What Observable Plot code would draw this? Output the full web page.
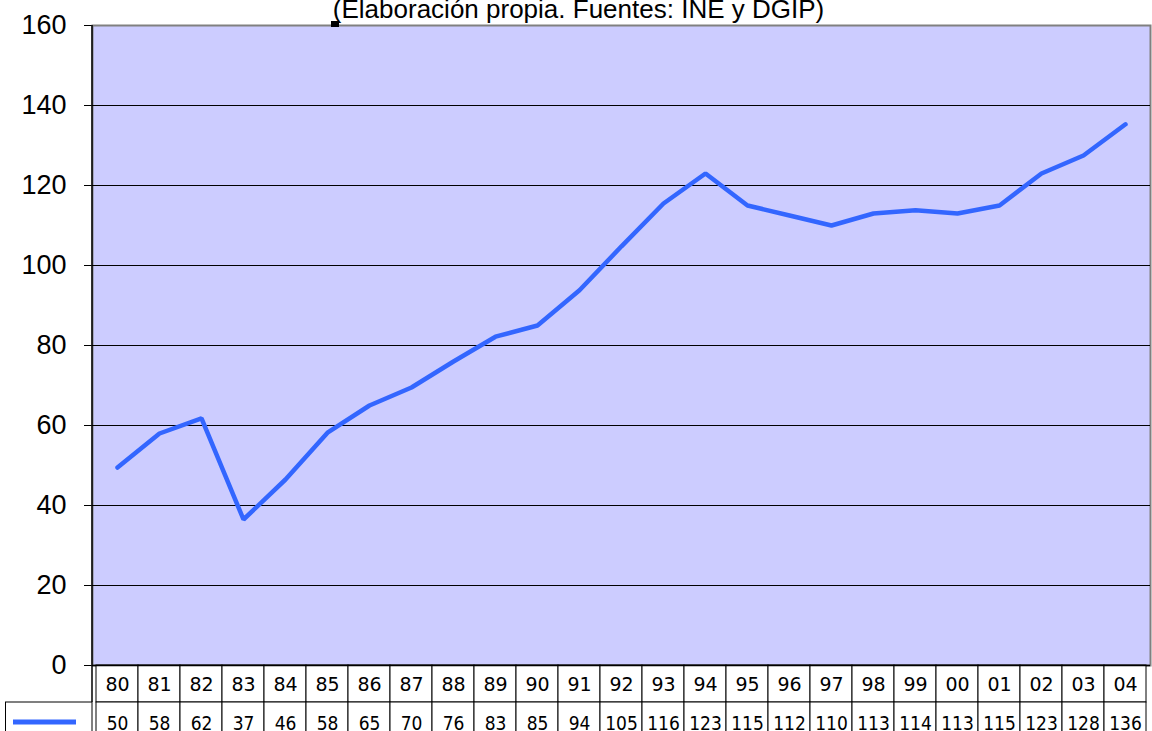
<!DOCTYPE html>
<html><head><meta charset="utf-8">
<script src="https://cdn.jsdelivr.net/npm/d3@7"></script>
<script src="https://cdn.jsdelivr.net/npm/@observablehq/plot@0.6"></script>
<style>body{margin:0;background:#fff;overflow:hidden}</style>
</head><body><div id="chart"></div>
<script>
const years = ["80","81","82","83","84","85","86","87","88","89","90","91","92","93","94","95","96","97","98","99","00","01","02","03","04"];
const values = [49.5,58,61.8,36.5,46.5,58.2,65,69.5,76,82.2,85,93.8,104.8,115.5,123,115,112.5,110,113,113.8,113,115,123,127.5,135.3];
const tableLabels = ["50","58","62","37","46","58","65","70","76","83","85","94","105","116","123","115","112","110","113","114","113","115","123","128","136"];
const yTicks = [0,20,40,60,80,100,120,140,160];
const title = "(Elaboración propia. Fuentes: INE y DGIP)";

const data = years.map((y, i) => ({year: y, value: values[i], label: tableLabels[i]}));

const W = 1152, H = 731, mL = 92, mR = 2, mT = 25, mB = 66;
const headerY = -4.75, rowSplit = -9.25, valueY = -14.7, tableBottom = -17;

const chart = Plot.plot({
  width: W, height: H,
  marginLeft: mL, marginRight: mR, marginTop: mT, marginBottom: mB,
  style: {background: "#fff", fontFamily: "'Liberation Sans', Arial, sans-serif", fontSize: "27px", color: "#000", overflow: "visible"},
  x: {domain: years, padding: 0, axis: null},
  y: {domain: [0, 160], ticks: yTicks, tickSize: 8, tickPadding: 18, label: null, line: true, tickFormat: d => String(d)},
  marks: [
    Plot.frame({fill: "#CCCCFF", stroke: "#808080", strokeWidth: 2}),
    Plot.ruleY(yTicks.filter(t => t > 0 && t < 160), {stroke: "#000", strokeWidth: 1}),
    Plot.barY(data, {x: "year", y1: 0, y2: rowSplit, fill: "#fff", stroke: "#000", strokeWidth: 1}),
    Plot.barY(data, {x: "year", y1: rowSplit, y2: tableBottom, fill: "#fff", stroke: "#000", strokeWidth: 1}),
    Plot.text(data, {x: "year", y: headerY, text: "year", fontSize: 19, fontFamily: "'DejaVu Sans', sans-serif", fill: "#000"}),
    Plot.text(data, {x: "year", y: valueY, text: "label", fontSize: 19, fontFamily: "'DejaVu Sans Condensed', 'DejaVu Sans', sans-serif", fill: "#000", letterSpacing: "-1px"}),
    Plot.ruleY([0], {stroke: "#000", strokeWidth: 1.5}),
    Plot.line(data, {x: "year", y: "value", stroke: "#3366FF", strokeWidth: 4.5, strokeLinejoin: "miter"}),
    Plot.text([title], {frameAnchor: "top", text: d => d, dx: -43, dy: -8, lineAnchor: "bottom", fontSize: 26, fontFamily: "'Liberation Sans', Arial, sans-serif", fill: "#000"})
  ]
});

document.getElementById("chart").appendChild(chart);

// Legend key cell of the data table (left of the year columns)
const svg = d3.select(chart);
const g = svg.append("g");
const ys = chart.scale("y");
const rowTop = ys.apply(rowSplit), rowBot = ys.apply(tableBottom);
g.append("rect").attr("x", 5.5).attr("y", rowTop).attr("width", mL - 5.5).attr("height", rowBot - rowTop)
  .attr("fill", "#fff").attr("stroke", "#000").attr("stroke-width", 1);
g.append("line").attr("x1", 13).attr("x2", 76).attr("y1", 722).attr("y2", 722)
  .attr("stroke", "#3366FF").attr("stroke-width", 5);
// left axis line down through the header row
g.append("line").attr("x1", mL).attr("x2", mL).attr("y1", mT).attr("y2", rowTop)
  .attr("stroke", "#000").attr("stroke-width", 1.5);
// small marker under the title's opening parenthesis
g.append("rect").attr("x", 331).attr("y", 21).attr("width", 8).attr("height", 6).attr("fill", "#000");
</script>
</body></html>
